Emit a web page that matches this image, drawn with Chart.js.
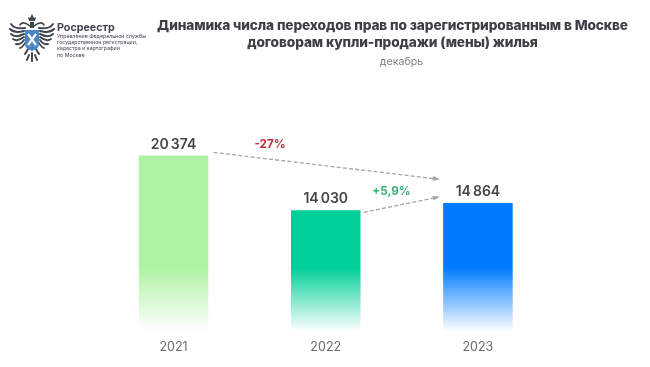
<!DOCTYPE html>
<html lang="ru"><head><meta charset="utf-8">
<style>
html,body{margin:0;padding:0;background:#fff;width:650px;height:367px;overflow:hidden}
#wrap{position:relative;width:650px;height:367px}
canvas{position:absolute;left:0;top:0}
svg{position:absolute;left:8px;top:13px}
</style>
<script src="https://cdn.jsdelivr.net/npm/chart.js@4"></script>
</head><body>
<div id="wrap">
<canvas id="c" width="650" height="367"></canvas>
<svg width="48" height="50" viewBox="0 0 48 50">
 <g fill="none" stroke="#3f4650" stroke-linecap="round">
  <path d="M22 13C17 9 13 9 12 12M26 13C31 9 35 9 36 12" stroke-width="1.6"/>
  <path d="M17 15C10 16 5 14 3 11M31 15C38 16 43 14 45 11" stroke-width="2"/>
  <path d="M16 18C9 20 5 19 2 16M32 18C39 20 43 19 46 16" stroke-width="2"/>
  <path d="M16 21C10 24 6 24 3 21M32 21C38 24 42 24 45 21" stroke-width="2"/>
  <path d="M16 24C11 28 8 28 5 26M32 24C37 28 40 28 43 26" stroke-width="2"/>
  <path d="M16 27C13 31 11 32 8 31M32 27C35 31 37 32 40 31" stroke-width="2"/>
  <path d="M17 30C15 33 14 35 12 35M31 30C33 33 34 35 36 35" stroke-width="1.8"/>
  <path d="M20 36L17 41M28 36L31 41M24 40V48M21 42L19 47M27 42L29 47" stroke-width="2"/>
 </g>
 <path d="M21 8h6l1-4-2 1-2-4-2 4-2-1z" fill="#3f4650"/>
 <rect x="22" y="9" width="4" height="6" fill="#3f4650"/>
 <path d="M17 17h14v14c0 4-4 6-7 7-3-1-7-3-7-7z" fill="#4a86c5"/>
 <path d="M20 21l8 11M28 21l-8 11" stroke="#fff" stroke-width="2.2"/>
</svg>
</div>
<script>
const categories = ['2021', '2022', '2023'];
const values = [20374, 14030, 14864];
const valueLabels = ['20 374', '14 030', '14 864'];
const barColors = ['#aff2a3', '#00cf97', '#007bff'];
const barFades = ['rgba(175,242,163,0)', 'rgba(0,207,151,0)', 'rgba(0,123,255,0)'];
const titleLines = ['Динамика числа переходов прав по зарегистрированным в Москве', 'договорам купли-продажи (мены) жилья'];
const subtitle = 'декабрь';
const orgName = 'Росреестр';
const orgLines = ['Управление Федеральной службы', 'государственной регистрации,', 'кадастра и картографии', 'по Москве'];
const changeLabels = ['-27%', '+5,9%'];

const FONT = 'Inter, "Noto Sans", sans-serif';

const overlay = {
  id: 'overlay',
  afterDraw(chart) {
    const { ctx, scales: { x, y } } = chart;
    ctx.save();
    // header
    ctx.textAlign = 'center'; ctx.textBaseline = 'middle';
    ctx.fillStyle = '#3c3f44';
    ctx.font = '800 13.7px ' + FONT;
    ctx.letterSpacing = '-0.12px';
    ctx.fillText(titleLines[0], 392.5, 25.5);
    ctx.fillText(titleLines[1], 392.5, 42.5);
    ctx.letterSpacing = '0px';
    ctx.fillStyle = '#808080';
    ctx.font = '400 10.7px ' + FONT;
    ctx.fillText(subtitle, 401.5, 62);
    // org
    ctx.textAlign = 'left';
    ctx.fillStyle = '#3f4650';
    ctx.font = '700 10.7px ' + FONT;
    ctx.fillText(orgName, 57, 27.5);
    ctx.font = '400 5.25px ' + FONT;
    orgLines.forEach((l, i) => ctx.fillText(l, 57, 36.3 + i * 6.3));
    // value labels
    ctx.textAlign = 'center';
    ctx.fillStyle = '#454545';
    ctx.font = '600 14px ' + FONT;
    ctx.wordSpacing = '-1.5px';
    values.forEach((v, i) => ctx.fillText(valueLabels[i], x.getPixelForValue(i), y.getPixelForValue(v) - 11));
    ctx.wordSpacing = '0px';
    // arrows, anchored on the scales
    const arrow = (x1, y1, x2, y2) => {
      ctx.strokeStyle = '#a9a4a8'; ctx.fillStyle = '#a9a4a8';
      ctx.lineWidth = 1.3; ctx.setLineDash([4, 2.2]);
      ctx.beginPath(); ctx.moveTo(x1, y1); ctx.lineTo(x2, y2); ctx.stroke();
      ctx.setLineDash([]);
      const a = Math.atan2(y2 - y1, x2 - x1);
      ctx.beginPath();
      ctx.moveTo(x2 + 2, y2 + 2 * Math.tan(a));
      ctx.lineTo(x2 - 5 * Math.cos(a) + 2.5 * Math.sin(a), y2 - 5 * Math.sin(a) - 2.5 * Math.cos(a));
      ctx.lineTo(x2 - 5 * Math.cos(a) - 2.5 * Math.sin(a), y2 - 5 * Math.sin(a) + 2.5 * Math.cos(a));
      ctx.closePath(); ctx.fill();
    };
    const b0 = x.getPixelForValue(0), b1 = x.getPixelForValue(1), b2 = x.getPixelForValue(2);
    arrow(b0 + 40, y.getPixelForValue(values[0]) - 3, b2 - 40, y.getPixelForValue(values[2]) - 24);
    arrow(b1 + 38, y.getPixelForValue(values[1]) + 2, b2 - 40, y.getPixelForValue(values[2]) - 6);
    ctx.font = '700 11.7px ' + FONT;
    ctx.fillStyle = '#c0303a';
    ctx.fillText(changeLabels[0], 270, 144);
    ctx.fillStyle = '#3fae78';
    ctx.fillText(changeLabels[1], 391.5, 191);
    ctx.restore();
  }
};

new Chart(document.getElementById('c'), {
  type: 'bar',
  data: {
    labels: categories,
    datasets: [{
      data: values,
      barPercentage: 0.457,
      categoryPercentage: 1,
      borderWidth: 0,
      backgroundColor(c) {
        const area = c.chart.chartArea;
        if (!area) return barColors[c.dataIndex];
        const g = c.chart.ctx.createLinearGradient(0, area.bottom - 64, 0, area.bottom);
        g.addColorStop(0, barColors[c.dataIndex]);
        g.addColorStop(1, barFades[c.dataIndex]);
        return g;
      }
    }]
  },
  options: {
    responsive: false,
    animation: false,
    layout: { padding: { left: 97.5, right: 96, top: 80, bottom: 3.5 } },
    plugins: { legend: { display: false }, tooltip: { enabled: false } },
    scales: {
      x: {
        border: { display: false },
        grid: { display: false, drawTicks: false },
        ticks: { color: '#6d6d6d', font: { family: FONT, size: 12.5 }, padding: 8.5 }
      },
      y: {
        display: false,
        min: 0,
        max: 29108
      }
    }
  },
  plugins: [overlay]
});
</script>
</body></html>
